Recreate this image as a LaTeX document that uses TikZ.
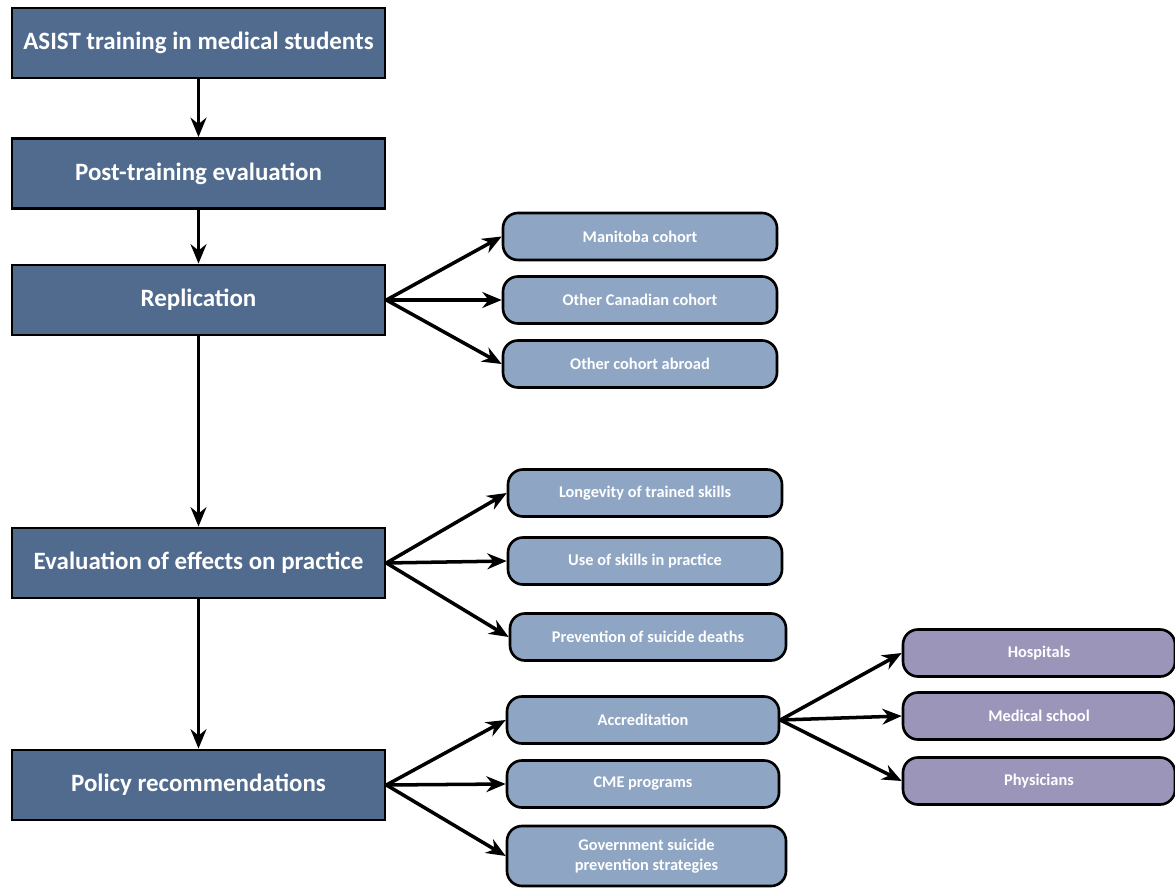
\documentclass[tikz,border=0pt]{standalone}
\usepackage{fontspec}
\setmainfont{Carlito}
\usetikzlibrary{arrows.meta}
\definecolor{darkbox}{HTML}{506B8E}
\definecolor{lightbox}{HTML}{8EA6C3}
\definecolor{violetbox}{HTML}{9B95BA}
\tikzset{one/.style={draw,line width=1.6pt,fill=darkbox,text=white,minimum width=7.46cm,minimum height=1.4cm,align=center,font=\bfseries\fontsize{14.2}{16}\selectfont},
two/.style={draw,line width=1.5pt,fill=lightbox,text=white,rounded corners=0.3cm,minimum width=5.48cm,minimum height=0.94cm,align=center,font=\bfseries\fontsize{9.3}{11}\selectfont},
three/.style={two,fill=violetbox,minimum width=5.44cm},
arrow/.style = {-{Stealth[length=11pt,width=9pt]},line width=2pt}}
\begin{document}
\begin{tikzpicture}
\useasboundingbox (0,0) rectangle (23.5,-17.76);
\node[one] (a) at (3.97,-0.86) {ASIST training in medical students};
\node[one] (b) at (3.97,-3.47) {Post-training evaluation};
\node[one] (c) at (3.97,-6.0) {Replication};
\node[one] (d) at (3.97,-11.26) {Evaluation of effects on practice};
\node[one] (e) at (3.97,-15.7) {Policy recommendations};

\node[two] (f) at (12.8,-4.73) {Manitoba cohort};
\node[two] (g) at (12.8,-6.0) {Other Canadian cohort};
\node[two] (h) at (12.8,-7.28) {Other cohort abroad};

\node[two] (i) at (12.9,-9.86) {Longevity of trained skills};
\node[two] (j) at (12.9,-11.22) {Use of skills in practice};
\node[two,minimum width=5.52cm] (k) at (12.96,-12.74) {Prevention of suicide deaths};

\node[two,minimum width=5.44cm] (l) at (12.86,-14.4) {Accreditation};
\node[two,minimum width=5.44cm] (m) at (12.86,-15.68) {CME programs};
\node[two,minimum width=5.58cm,minimum height=1.2cm] (n) at (12.93,-17.12) {Government suicide\\prevention strategies};

\node[three] (o) at (20.78,-13.06) {Hospitals};
\node[three] (p) at (20.78,-14.32) {Medical school};
\node[three] (q) at (20.78,-15.62) {Physicians};

\draw[arrow] (a) -- (b);
\draw[arrow] (b) -- (c);
\draw[arrow] (c) -- (d);
\draw[arrow] (d) -- (e);

\draw[arrow] (c.east) -- (f.west);
\draw[arrow] (c.east) -- (g.west);
\draw[arrow] (c.east) -- (h.west);

\draw[arrow] (d.east) -- (i.west);
\draw[arrow] (d.east) -- (j.west);
\draw[arrow] (d.east) -- (k.west);

\draw[arrow] (e.east) -- (l.west);
\draw[arrow] (e.east) -- (m.west);
\draw[arrow] (e.east) -- (n.west);

\draw[arrow] (l.east) -- (o.west);
\draw[arrow] (l.east) -- (p.west);
\draw[arrow] (l.east) -- (q.west);
\end{tikzpicture}
\end{document}
